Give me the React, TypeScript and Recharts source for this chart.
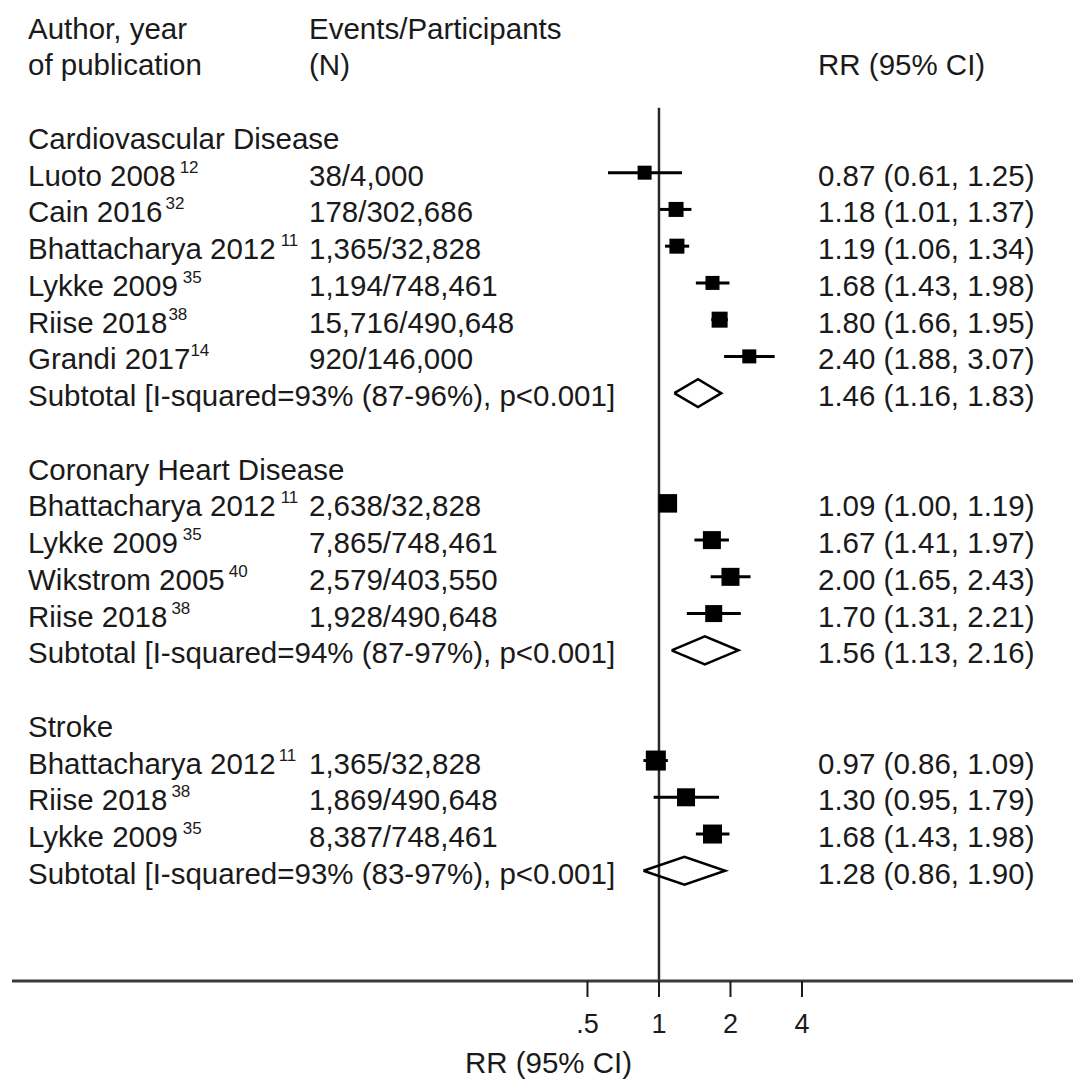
import React from 'react';
import { ComposedChart, Scatter, XAxis, YAxis, ErrorBar, ReferenceLine } from 'recharts';

// ---------------- data ----------------
const sectionNames = ['Cardiovascular Disease', 'Coronary Heart Disease', 'Stroke'];

const studyAuthors = [
  ['Luoto 2008', 'Cain 2016', 'Bhattacharya 2012', 'Lykke 2009', 'Riise 2018', 'Grandi 2017'],
  ['Bhattacharya 2012', 'Lykke 2009', 'Wikstrom 2005', 'Riise 2018'],
  ['Bhattacharya 2012', 'Riise 2018', 'Lykke 2009'],
];
const studyRefs = [
  ['12', '32', '11', '35', '38', '14'],
  ['11', '35', '40', '38'],
  ['11', '38', '35'],
];
const studyEvents = [
  ['38/4,000', '178/302,686', '1,365/32,828', '1,194/748,461', '15,716/490,648', '920/146,000'],
  ['2,638/32,828', '7,865/748,461', '2,579/403,550', '1,928/490,648'],
  ['1,365/32,828', '1,869/490,648', '8,387/748,461'],
];
const studyRR = [
  [0.87, 1.18, 1.19, 1.68, 1.8, 2.4],
  [1.09, 1.67, 2.0, 1.7],
  [0.97, 1.3, 1.68],
];
const studyLo = [
  [0.61, 1.01, 1.06, 1.43, 1.66, 1.88],
  [1.0, 1.41, 1.65, 1.31],
  [0.86, 0.95, 1.43],
];
const studyHi = [
  [1.25, 1.37, 1.34, 1.98, 1.95, 3.07],
  [1.19, 1.97, 2.43, 2.21],
  [1.09, 1.79, 1.98],
];
// relative weight -> square size
const studyWeight = [
  [14, 15, 15, 14, 16, 14],
  [18.5, 18, 18, 17],
  [20, 18, 19],
];
const supGap = [
  [4, 3, 5, 5, 1, 0],
  [5, 5, 4, 4],
  [3, 4, 5],
];

const subtotalI2 = ['93% (87-96%)', '94% (87-97%)', '93% (83-97%)'];
const subtotalP = ['p<0.001', 'p<0.001', 'p<0.001'];
const subtotalRR = [1.46, 1.56, 1.28];
const subtotalLo = [1.16, 1.13, 0.86];
const subtotalHi = [1.83, 2.16, 1.9];

const tickValues = [0.5, 1, 2, 4];
const tickLabels = ['.5', '1', '2', '4'];

const headerLeft = ['Author, year', 'of publication'];
const headerMid = ['Events/Participants', '(N)'];
const headerRight = ['', 'RR (95% CI)'];
const axisTitle = 'RR (95% CI)';

// ---------------- build rows ----------------
type Row = {
  x: number;
  y: number;
  left: string;
  sup?: string;
  supGap?: number;
  mid?: string;
  right?: string;
};

const fmt = (v: number) => v.toFixed(2);

const rows: Row[] = [];
const squares: any[] = [];
const diamonds: any[][] = [];

rows.push({ x: 1, y: -3, left: headerLeft[0], mid: headerMid[0], right: headerRight[0] });
rows.push({ x: 1, y: -2, left: headerLeft[1], mid: headerMid[1], right: headerRight[1] });

let idx = 0;
sectionNames.forEach((name, s) => {
  rows.push({ x: 1, y: idx, left: name });
  idx += 1;
  studyAuthors[s].forEach((a, k) => {
    const rr = studyRR[s][k];
    const lo = studyLo[s][k];
    const hi = studyHi[s][k];
    rows.push({
      x: 1,
      y: idx,
      left: a,
      sup: studyRefs[s][k],
      supGap: supGap[s][k],
      mid: studyEvents[s][k],
      right: `${fmt(rr)} (${fmt(lo)}, ${fmt(hi)})`,
    });
    squares.push({ x: rr, y: idx, err: [rr - lo, hi - rr], size: studyWeight[s][k] });
    idx += 1;
  });
  const rr = subtotalRR[s];
  const lo = subtotalLo[s];
  const hi = subtotalHi[s];
  rows.push({
    x: 1,
    y: idx,
    left: `Subtotal [I-squared=${subtotalI2[s]}, ${subtotalP[s]}]`,
    right: `${fmt(rr)} (${fmt(lo)}, ${fmt(hi)})`,
  });
  const h = 0.38;
  diamonds.push([
    { x: lo, y: idx },
    { x: rr, y: idx - h },
    { x: hi, y: idx },
    { x: rr, y: idx + h },
    { x: lo, y: idx },
  ]);
  idx += 2;
});

// ---------------- rendering ----------------
const FONT = "'Liberation Sans', Arial, sans-serif";
const TEXT_COLOR = '#1a1a1a';
const FS = 29.5;

const RowText = (props: any) => {
  const { cy, payload } = props;
  const r: Row = payload;
  if (cy == null || !r) return <g />;
  const base = cy + 13;
  return (
    <g fontFamily={FONT} fill={TEXT_COLOR}>
      <text x={28} y={base} fontSize={FS}>
        {r.left}
        {r.sup ? (
          <tspan dx={r.supGap} dy={-13} fontSize={17}>
            {r.sup}
          </tspan>
        ) : null}
      </text>
      {r.mid ? (
        <text x={309} y={base} fontSize={FS}>
          {r.mid}
        </text>
      ) : null}
      {r.right ? (
        <text x={818} y={base} fontSize={FS}>
          {r.right}
        </text>
      ) : null}
    </g>
  );
};

const SquareShape = (props: any) => {
  const { cx, cy, payload } = props;
  const s = payload.size;
  return <rect x={cx - s / 2} y={cy - s / 2} width={s} height={s} fill="#000" />;
};

const NoShape = () => <g />;

const XTick = (props: any) => {
  const { x, y, payload } = props;
  const i = tickValues.indexOf(payload.value);
  return (
    <text x={x} y={y + 18} textAnchor="middle" fontSize={27} fontFamily={FONT} fill={TEXT_COLOR}>
      {i >= 0 ? tickLabels[i] : String(payload.value)}
    </text>
  );
};

const AxisTitle = (props: any) => {
  const vb = props.viewBox || {};
  const cx = (vb.x ?? 12) + (vb.width ?? 1061) / 2 + 6;
  return (
    <text x={cx} y={1073} textAnchor="middle" fontSize={FS} fontFamily={FONT} fill={TEXT_COLOR}>
      {axisTitle}
    </text>
  );
};

// x domain chosen so that 1 sits at x=659 with ~71.5px per doubling
const X_DOMAIN = [0.001889, 55.34];

export default function App() {
  return (
    <div style={{ position: 'absolute', left: 0, top: 0, width: 1073, height: 1084, background: '#fff' }}>
      <ComposedChart width={1073} height={1084} margin={{ top: 0, right: 0, bottom: 0, left: 12 }}>
        <XAxis
          type="number"
          dataKey="x"
          scale="log"
          domain={X_DOMAIN}
          allowDataOverflow
          ticks={tickValues}
          interval={0}
          height={103}
          tickSize={16}
          tickMargin={18}
          axisLine={{ stroke: '#3a3a3a', strokeWidth: 3 }}
          tickLine={{ stroke: '#1a1a1a', strokeWidth: 2 }}
          tick={<XTick />}
          label={<AxisTitle />}
        />
        <YAxis type="number" dataKey="y" domain={[-3.7, 23]} reversed allowDataOverflow hide />
        <ReferenceLine
          segment={[
            { x: 1, y: -0.77 },
            { x: 1, y: 23 },
          ]}
          stroke="#2a2a2a"
          strokeWidth={2.5}
        />
        {diamonds.map((d, i) => (
          <Scatter
            key={'dia' + i}
            data={d}
            shape={<NoShape />}
            line={{ stroke: '#000', strokeWidth: 2.5 }}
            lineType="joint"
            isAnimationActive={false}
          />
        ))}
        <Scatter data={squares} shape={<SquareShape />} isAnimationActive={false}>
          <ErrorBar dataKey="err" direction="x" width={0} strokeWidth={3} stroke="#000" isAnimationActive={false} />
        </Scatter>
        <Scatter data={rows} shape={<RowText />} isAnimationActive={false} />
      </ComposedChart>
    </div>
  );
}
